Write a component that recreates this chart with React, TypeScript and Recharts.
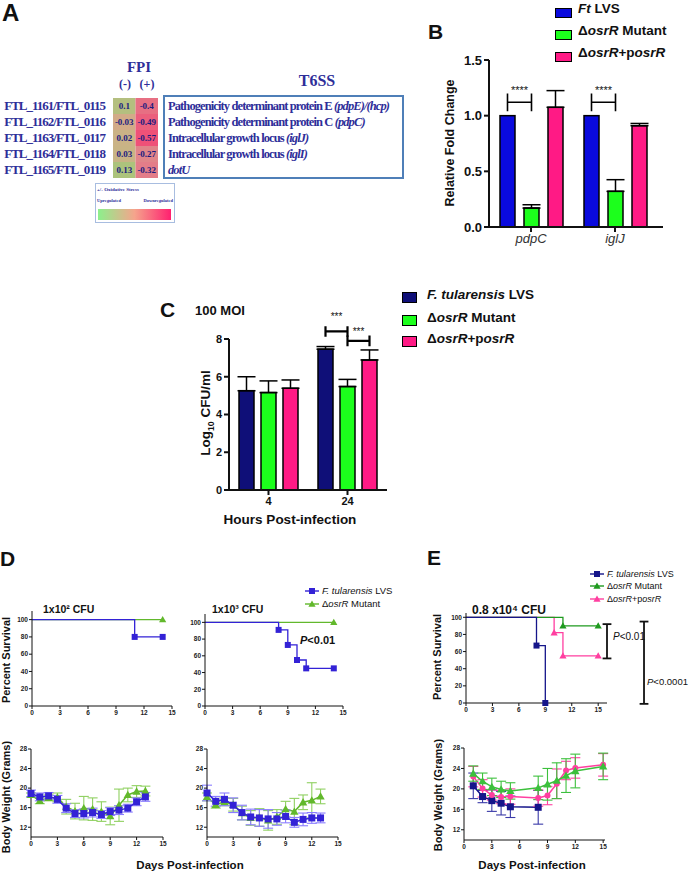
import React from "react";
import {
  BarChart,
  Bar,
  LineChart,
  Line,
  XAxis,
  YAxis,
  ErrorBar,
  ReferenceLine,
  Cell,
  LabelList,
} from "recharts";

const SANS = '"Liberation Sans", Arial, sans-serif';
const SERIF = '"Liberation Serif", "Times New Roman", serif';
const NAVY_TXT = "#2e2e99";

// ---------- A: heat table ----------
const aGenes = ["FTL_1161/FTL_0115", "FTL_1162/FTL_0116", "FTL_1163/FTL_0117", "FTL_1164/FTL_0118", "FTL_1165/FTL_0119"];
const aMinus = [0.1, -0.03, 0.02, 0.03, 0.13];
const aPlus = [-0.4, -0.49, -0.57, -0.27, -0.32];
const aDesc = ["Pathogenicity determinant protein E ", "Pathogenicity determinant protein C ", "Intracellular growth locus ", "Intracellular growth locus ", ""];
const aSym = ["(pdpE)/(hcp)", "(pdpC)", "(iglJ)", "(iglI)", "dotU"];

// ---------- B: qRT-PCR ----------
const bGenes = ["pdpC", "iglJ"];
const bLvs = [1.0, 1.0];
const bMutant = [0.17, 0.32];
const bMutantErr = [0.03, 0.105];
const bComp = [1.075, 0.91];
const bCompErr = [0.15, 0.02];
const bStars = ["****", "****"];

// ---------- C: intracellular growth ----------
const cHours = ["4", "24"];
const cLvs = [5.26, 7.46];
const cLvsErr = [0.74, 0.14];
const cMutant = [5.16, 5.48];
const cMutantErr = [0.62, 0.38];
const cComp = [5.39, 6.89];
const cCompErr = [0.44, 0.53];
const cStarsLvsMut = ["", "***"];
const cStarsMutComp = ["", "***"];

// ---------- D: survival ----------
const dayTicks = [0, 3, 6, 9, 12, 15];
const dLowDaysLvs = [0, 11, 14];
const dLowSurvLvs = [100, 80, 80];
const dLowDaysMut = [0, 14];
const dLowSurvMut = [100, 100];
const dHighDaysLvs = [0, 8, 9, 10, 11, 14];
const dHighSurvLvs = [100, 91, 73, 55, 45, 45];
const dHighDaysMut = [0, 14];
const dHighSurvMut = [100, 100];

// ---------- D: body weight ----------
const dWeightDays = [0, 1, 2, 3, 4, 5, 6, 7, 8, 9, 10, 11, 12, 13];
const dLowWtLvs = [18.9, 18.2, 18.4, 17.7, 15.9, 14.8, 14.8, 15.0, 14.6, 15.2, 15.5, 15.9, 17.2, 18.2];
const dLowWtLvsSd = [0.7, 0.8, 0.7, 0.8, 0.9, 0.8, 0.9, 0.9, 0.8, 0.8, 0.9, 0.8, 0.8, 0.9];
const dLowWtMut = [18.6, 17.4, 18.0, 18.1, 16.2, 15.3, 15.9, 15.7, 15.2, 14.3, 16.5, 18.6, 19.3, 19.4];
const dLowWtMutSd = [0.4, 0.6, 0.6, 0.9, 1.5, 1.6, 2.4, 2.3, 2.0, 1.8, 3.3, 1.4, 1.2, 1.0];
const dHighWtLvs = [19.0, 17.3, 17.7, 16.5, 15.0, 14.1, 13.9, 13.7, 13.7, 14.2, 13.0, 13.6, 13.9, 13.9];
const dHighWtLvsSd = [1.6, 1.0, 1.3, 1.5, 1.5, 1.6, 1.7, 1.9, 1.3, 1.3, 1.0, 1.3, 1.1, 1.0];
const dHighWtMut = [18.2, 16.6, 17.2, 16.6, 14.9, 13.9, 14.0, 13.4, 14.1, 15.7, 15.2, 17.1, 17.5, 18.3];
const dHighWtMutSd = [0.8, 0.7, 0.8, 1.3, 1.4, 1.5, 1.8, 2.0, 1.5, 1.6, 2.7, 1.5, 3.6, 1.5];

// ---------- E: survival ----------
const eDaysLvs = [0, 8, 9];
const eSurvLvs = [100, 67, 0];
const eDaysMut = [0, 11, 15];
const eSurvMut = [100, 90, 90];
const eDaysComp = [0, 10, 11, 15];
const eSurvComp = [100, 82, 55, 55];

// ---------- E: body weight ----------
const eWtDaysLvs = [1, 2, 3, 4, 5, 8];
const eWtLvs = [20.6, 18.5, 17.7, 17.2, 16.5, 16.4];
const eWtLvsSd = [2.5, 1.2, 2.1, 2.3, 2.1, 3.3];
const eWtDays = [1, 2, 3, 4, 5, 8, 9, 10, 11, 12, 15];
const eWtMut = [23.0, 21.5, 20.4, 19.9, 19.6, 20.2, 20.9, 21.6, 22.6, 23.5, 24.4];
const eWtMutSd = [1.5, 1.6, 1.7, 1.6, 1.6, 2.3, 3.1, 3.5, 3.3, 3.3, 2.6];
const eWtComp = [22.4, 20.1, 18.8, 18.4, 18.5, 18.2, 18.7, 21.0, 23.6, 24.1, 24.7];
const eWtCompSd = [2.0, 1.7, 1.0, 1.3, 1.5, 1.6, 1.8, 2.9, 1.8, 2.0, 2.2];

const C_BLUE = "#0a0ade";
const C_NAVY = "#0f0f78";
const C_GREEN = "#1cff1c";
const C_PINK = "#ff1a85";

function heat(v: number) {
  const stops: [number, number[]][] = [
    [-0.6, [240, 76, 118]],
    [-0.3, [226, 128, 138]],
    [0, [208, 176, 136]],
    [0.15, [166, 198, 122]],
  ];
  let i = 0;
  while (i < stops.length - 2 && v > stops[i + 1][0]) i++;
  const [a, ca] = stops[i];
  const [b, cb] = stops[i + 1];
  const t = Math.max(0, Math.min(1, (v - a) / (b - a)));
  const c = ca.map((x, k) => Math.round(x + (cb[k] - x) * t));
  return `rgb(${c[0]},${c[1]},${c[2]})`;
}

const Txt = ({ x, y, size, children, anchor = "start", bold, italic, color = "#111", font = SANS, style }: any) => (
  <div
    style={{
      position: "absolute",
      left: x,
      top: y,
      fontSize: size,
      lineHeight: 1,
      whiteSpace: "nowrap",
      fontWeight: bold ? 700 : 400,
      fontStyle: italic ? "italic" : "normal",
      color,
      fontFamily: font,
      transform: `translate(${anchor === "middle" ? "-50%" : anchor === "end" ? "-100%" : "0"}, -50%)`,
      ...style,
    }}
  >
    {children}
  </div>
);

const VTxt = ({ x, y, size, children, bold = true, color = "#111" }: any) => (
  <div
    style={{
      position: "absolute",
      left: x,
      top: y,
      fontSize: size,
      lineHeight: 1,
      whiteSpace: "nowrap",
      fontWeight: bold ? 700 : 400,
      color,
      fontFamily: SANS,
      transform: "translate(-50%, -50%) rotate(-90deg)",
    }}
  >
    {children}
  </div>
);

type Shape = "square" | "triangle" | "circle";
function Marker({ shape, cx, cy, size, color }: { shape: Shape; cx: number; cy: number; size: number; color: string }) {
  if (shape === "square") return <rect x={cx - size / 2} y={cy - size / 2} width={size} height={size} fill={color} />;
  if (shape === "triangle")
    return (
      <polygon
        points={`${cx},${cy - size * 0.6} ${cx - size * 0.6},${cy + size * 0.45} ${cx + size * 0.6},${cy + size * 0.45}`}
        fill={color}
      />
    );
  return <circle cx={cx} cy={cy} r={size / 2} fill={color} />;
}

// bar with significance brackets drawn from the bar's own geometry
function bracketBar(opts: {
  valueKey: string;
  step: number;
  stroke: number;
  fontSize: number;
  brackets: { from: number; to: number; level: number; half: number; starLevel: number; starKey: string }[];
}) {
  return (p: any) => {
    const { x, y, width, height, fill, payload } = p;
    const v = payload[opts.valueKey];
    const base = y + height;
    const k = v ? height / v : 0;
    const py = (val: number) => base - val * k;
    const cx = x + width / 2;
    return (
      <g>
        <rect x={x} y={y} width={width} height={height} fill={fill} stroke="#000" strokeWidth={1.5} />
        {opts.brackets.map((b, j) => {
          const s = payload[b.starKey];
          if (!s) return null;
          const x1 = cx + b.from * opts.step;
          const x2 = cx + b.to * opts.step;
          return (
            <g key={j}>
              <path
                d={`M${x1},${py(b.level + b.half)}V${py(b.level - b.half)}M${x1},${py(b.level)}H${x2}M${x2},${py(b.level + b.half)}V${py(b.level - b.half)}`}
                stroke="#000"
                strokeWidth={opts.stroke}
                fill="none"
              />
              <text x={(x1 + x2) / 2} y={py(b.starLevel)} textAnchor="middle" fontSize={opts.fontSize} fontFamily={SANS} fill="#111">
                {s}
              </text>
            </g>
          );
        })}
      </g>
    );
  };
}

const smallTick = { fontSize: 6.5, fontWeight: 700, fill: "#222", fontFamily: SANS };

type Series = { days: number[]; vals: number[]; sd?: number[]; color: string; errColor?: string; shape: Shape; size: number };

function KmChart({ x0, top, plotW, plotH, xMax, yMax, series, T = 5, R = 8, children }: any) {
  const L = 22;
  return (
    <div style={{ position: "absolute", left: x0 - L, top: top - T }}>
      <LineChart width={L + plotW + R} height={T + plotH + 14} margin={{ top: T, right: R, bottom: 0, left: 0 }}>
        <XAxis type="number" dataKey="d" domain={[0, xMax]} ticks={dayTicks} tick={smallTick} tickSize={3} tickMargin={1} height={14} stroke="#111" />
        <YAxis type="number" domain={[0, yMax]} ticks={[0, 20, 40, 60, 80, 100]} tick={smallTick} tickSize={3} tickMargin={1} width={L} stroke="#111" />
        {series.map((s: Series, i: number) => (
          <Line
            key={i}
            data={s.days.map((d, j) => ({ d, v: s.vals[j] }))}
            dataKey="v"
            type="stepAfter"
            stroke={s.color}
            strokeWidth={1.3}
            isAnimationActive={false}
            dot={(p: any) =>
              p.index > 0 ? (
                <Marker key={p.index} shape={s.shape} cx={p.cx} cy={p.cy} size={s.size} color={s.color} />
              ) : (
                <g key={p.index} />
              )
            }
            activeDot={false}
          />
        ))}
        {children}
      </LineChart>
    </div>
  );
}

function WeightChart({ x0, top, plotW, plotH, xMax, series }: any) {
  const L = 22;
  const T = 5;
  const R = 8;
  return (
    <div style={{ position: "absolute", left: x0 - L, top: top - T }}>
      <LineChart width={L + plotW + R} height={T + plotH + 14} margin={{ top: T, right: R, bottom: 0, left: 0 }}>
        <XAxis type="number" dataKey="d" domain={[0, xMax]} ticks={dayTicks} tick={smallTick} tickSize={3} tickMargin={1} height={14} stroke="#111" />
        <YAxis type="number" domain={[10, 28]} ticks={[12, 16, 20, 24, 28]} tick={smallTick} tickSize={3} tickMargin={1} width={L} stroke="#111" />
        {series.map((s: Series, i: number) => (
          <Line
            key={i}
            data={s.days.map((d, j) => ({ d, v: s.vals[j], sd: s.sd ? s.sd[j] : 0 }))}
            dataKey="v"
            type="linear"
            stroke={s.color}
            strokeWidth={1.5}
            isAnimationActive={false}
            dot={(p: any) => <Marker key={p.index} shape={s.shape} cx={p.cx} cy={p.cy} size={s.size} color={s.color} />}
            activeDot={false}
          >
            <ErrorBar dataKey="sd" direction="y" width={5} stroke={s.errColor || s.color} strokeWidth={1.1} />
          </Line>
        ))}
      </LineChart>
    </div>
  );
}

const Swatch = ({ color, w, h }: any) => (
  <span style={{ display: "inline-block", width: w, height: h, background: color, border: "1.5px solid #000", boxSizing: "border-box" }} />
);

const LineKey = ({ shape, color }: { shape: Shape; color: string }) => (
  <svg width={14} height={8} style={{ display: "block" }}>
    <line x1={0} y1={4} x2={14} y2={4} stroke={color} strokeWidth={1.4} />
    <Marker shape={shape} cx={7} cy={4} size={6} color={color} />
  </svg>
);

const Osr = () => (
  <>
    Δ<i>osrR</i>
  </>
);

export default function App() {
  const aRows = aGenes.map((g, i) => ({ gene: g, minus: aMinus[i], plus: aPlus[i] }));
  const bRows = bGenes.map((g, i) => ({
    gene: g,
    lvs: bLvs[i],
    mutant: bMutant[i],
    comp: bComp[i],
    mutantErr: [0, bMutantErr[i]],
    compErr: [0, bCompErr[i]],
    stars: bStars[i],
  }));
  const cRows = cHours.map((h, i) => ({
    hour: h,
    lvs: cLvs[i],
    mutant: cMutant[i],
    comp: cComp[i],
    lvsErr: [0, cLvsErr[i]],
    mutantErr: [0, cMutantErr[i]],
    compErr: [0, cCompErr[i]],
    s1: cStarsLvsMut[i],
    s2: cStarsMutComp[i],
  }));

  const D_BLUE = "#3322d6";
  const D_BLUE_ERR = "#8a7cff";
  const D_GREEN = "#62b82c";
  const D_GREEN_ERR = "#8fd060";
  const E_NAVY = "#15158a";
  const E_GREEN_S = "#1f9a1f";
  const E_GREEN = "#3cc03c";
  const E_PINK = "#ff3fa0";

  return (
    <div style={{ position: "absolute", left: 0, top: 0, width: 689, height: 875, background: "#fff", overflow: "hidden", fontFamily: SANS }}>
      {/* ---------------- A ---------------- */}
      <Txt x={2} y={13} size={24} bold>A</Txt>
      <Txt x={139} y={67} size={15} bold font={SERIF} color={NAVY_TXT} anchor="middle">FPI</Txt>
      <Txt x={125} y={84} size={12} bold font={SERIF} color={NAVY_TXT} anchor="middle">(-)</Txt>
      <Txt x={147} y={84} size={12} bold font={SERIF} color={NAVY_TXT} anchor="middle">(+)</Txt>
      <Txt x={317} y={81} size={16} bold font={SERIF} color={NAVY_TXT} anchor="middle">T6SS</Txt>
      <div style={{ position: "absolute", left: 3, top: 98 }}>
        <BarChart width={155} height={80} data={aRows} layout="vertical" margin={{ top: 0, right: 0, bottom: 0, left: 0 }} barCategoryGap={0}>
          <XAxis type="number" domain={[0, 2]} hide />
          <YAxis
            type="category"
            dataKey="gene"
            width={110}
            axisLine={false}
            tickLine={false}
            interval={0}
            tick={(p: any) => (
              <text x={p.x} y={p.y} dy={4} textAnchor="end" fill={NAVY_TXT} fontFamily={SERIF} fontWeight={700} fontSize={13} letterSpacing={-1}>
                {p.payload.value}
              </text>
            )}
          />
          <Bar dataKey={() => 1} stackId="h" isAnimationActive={false}>
            {aRows.map((r, i) => (
              <Cell key={i} fill={heat(r.minus)} />
            ))}
            <LabelList dataKey="minus" position="center" fill="#1b1b80" fontSize={9} fontWeight={700} fontFamily={SERIF} />
          </Bar>
          <Bar dataKey={() => 1} stackId="h" isAnimationActive={false}>
            {aRows.map((r, i) => (
              <Cell key={i} fill={heat(r.plus)} />
            ))}
            <LabelList dataKey="plus" position="center" fill="#1b1b80" fontSize={9} fontWeight={700} fontFamily={SERIF} />
          </Bar>
        </BarChart>
      </div>
      <div style={{ position: "absolute", left: 163, top: 95, width: 241, height: 84, border: "2px solid #4f7fb8", boxSizing: "border-box" }} />
      {aDesc.map((d, i) => (
        <Txt key={i} x={168} y={106 + 16 * i} size={12.5} bold font={SERIF} color={NAVY_TXT} style={{ letterSpacing: -0.9 }}>
          {d}
          <i>{aSym[i]}</i>
        </Txt>
      ))}
      <div style={{ position: "absolute", left: 95, top: 183, width: 80, height: 40, border: "1.5px solid #a8bde0", boxSizing: "border-box" }}>
        <div
          style={{
            position: "absolute",
            left: 2,
            top: 25,
            width: 73,
            height: 11,
            background: "linear-gradient(to right, #8cf08c, #f5a48c 50%, #ff2070)",
          }}
        />
      </div>
      <Txt x={97} y={189} size={5} bold font={SERIF} color={NAVY_TXT}>+/- Oxidative Stress</Txt>
      <Txt x={97} y={201} size={4.5} bold font={SERIF} color={NAVY_TXT}>Upregulated</Txt>
      <Txt x={173} y={201} size={4.5} bold font={SERIF} color={NAVY_TXT} anchor="end">Downregulated</Txt>

      {/* ---------------- B ---------------- */}
      <Txt x={428} y={31} size={21} bold>B</Txt>
      <div style={{ position: "absolute", left: 449, top: 50 }}>
        <BarChart width={222} height={203} data={bRows} margin={{ top: 10, right: 8, bottom: 0, left: 0 }} barSize={15} barGap={9}>
          <XAxis dataKey="gene" tick={{ fontSize: 13, fontStyle: "italic", fill: "#333", fontFamily: SANS }} tickSize={5} tickMargin={2} height={26} stroke="#111" strokeWidth={2} padding={{ left: 0, right: 6 }} />
          <YAxis
            type="number"
            domain={[0, 1.5]}
            ticks={[0, 0.5, 1.0, 1.5]}
            tickFormatter={(v: number) => v.toFixed(1)}
            tick={{ fontSize: 13, fontWeight: 700, fill: "#111", fontFamily: SANS }}
            tickSize={5}
            tickMargin={2}
            width={40}
            stroke="#111"
            strokeWidth={2}
          />
          <Bar
            dataKey="lvs"
            fill={C_BLUE}
            isAnimationActive={false}
            shape={bracketBar({
              valueKey: "lvs",
              step: 24,
              stroke: 1.6,
              fontSize: 11,
              brackets: [{ from: 0, to: 1, level: 1.12, half: 0.08, starLevel: 1.195, starKey: "stars" }],
            })}
          />
          <Bar dataKey="mutant" fill={C_GREEN} stroke="#000" strokeWidth={1.5} isAnimationActive={false}>
            <ErrorBar dataKey="mutantErr" direction="y" width={9} stroke="#000" strokeWidth={1.5} />
          </Bar>
          <Bar dataKey="comp" fill={C_PINK} stroke="#000" strokeWidth={1.5} isAnimationActive={false}>
            <ErrorBar dataKey="compErr" direction="y" width={9} stroke="#000" strokeWidth={1.5} />
          </Bar>
        </BarChart>
      </div>
      <VTxt x={450} y={143} size={12.5}>Relative Fold Change</VTxt>
      {[
        { c: C_BLUE, label: <><i>Ft</i> LVS</>, y: 9 },
        { c: C_GREEN, label: <><Osr /> Mutant</>, y: 31 },
        { c: C_PINK, label: <><Osr />+p<i>osrR</i></>, y: 53 },
      ].map((it, i) => (
        <React.Fragment key={i}>
          <div style={{ position: "absolute", left: 555, top: it.y - 5 }}>
            <Swatch color={it.c} w={17} h={10} />
          </div>
          <Txt x={578} y={it.y} size={13.5} bold>{it.label}</Txt>
        </React.Fragment>
      ))}

      {/* ---------------- C ---------------- */}
      <Txt x={160} y={309} size={21} bold>C</Txt>
      <Txt x={195} y={310} size={13} bold>100 MOI</Txt>
      <div style={{ position: "absolute", left: 193, top: 294 }}>
        <BarChart width={200} height={218} data={cRows} margin={{ top: 45, right: 6, bottom: 0, left: 0 }} barSize={15} barGap={7}>
          <XAxis dataKey="hour" tick={{ fontSize: 11, fontWeight: 700, fill: "#111", fontFamily: SANS }} tickSize={5} tickMargin={2} height={22} stroke="#111" strokeWidth={2} />
          <YAxis
            type="number"
            domain={[0, 8]}
            ticks={[0, 2, 4, 6, 8]}
            tick={{ fontSize: 11, fontWeight: 700, fill: "#111", fontFamily: SANS }}
            tickSize={5}
            tickMargin={2}
            width={36}
            stroke="#111"
            strokeWidth={2}
          />
          <Bar
            dataKey="lvs"
            fill={C_NAVY}
            isAnimationActive={false}
            shape={bracketBar({
              valueKey: "lvs",
              step: 22,
              stroke: 2.2,
              fontSize: 10,
              brackets: [
                { from: 0, to: 1, level: 8.4, half: 0.28, starLevel: 9.0, starKey: "s1" },
                { from: 1, to: 2, level: 7.9, half: 0.28, starLevel: 8.2, starKey: "s2" },
              ],
            })}
          >
            <ErrorBar dataKey="lvsErr" direction="y" width={9} stroke="#000" strokeWidth={1.5} />
          </Bar>
          <Bar dataKey="mutant" fill={C_GREEN} stroke="#000" strokeWidth={1.5} isAnimationActive={false}>
            <ErrorBar dataKey="mutantErr" direction="y" width={9} stroke="#000" strokeWidth={1.5} />
          </Bar>
          <Bar dataKey="comp" fill={C_PINK} stroke="#000" strokeWidth={1.5} isAnimationActive={false}>
            <ErrorBar dataKey="compErr" direction="y" width={9} stroke="#000" strokeWidth={1.5} />
          </Bar>
        </BarChart>
      </div>
      <VTxt x={206} y={413} size={13.5}>
        Log<sub style={{ fontSize: "0.65em", lineHeight: 0 }}>10</sub> CFU/ml
      </VTxt>
      <Txt x={290} y={520} size={13.5} bold anchor="middle">Hours Post-infection</Txt>
      {[
        { c: C_NAVY, label: <><i>F. tularensis</i> LVS</>, y: 295 },
        { c: C_GREEN, label: <><Osr /> Mutant</>, y: 318 },
        { c: C_PINK, label: <><Osr />+p<i>osrR</i></>, y: 339 },
      ].map((it, i) => (
        <React.Fragment key={i}>
          <div style={{ position: "absolute", left: 402, top: it.y - 6 }}>
            <Swatch color={it.c} w={15} h={11} />
          </div>
          <Txt x={427} y={it.y} size={13.5} bold>{it.label}</Txt>
        </React.Fragment>
      ))}

      {/* ---------------- D ---------------- */}
      <Txt x={0} y={558} size={21} bold>D</Txt>
      <Txt x={43} y={609} size={10.5} bold>1x10² CFU</Txt>
      <Txt x={212} y={609} size={10.5} bold>1x10³ CFU</Txt>
      <KmChart
        x0={32}
        top={611}
        plotW={140}
        plotH={95}
        xMax={15}
        yMax={110}
        series={[
          { days: dLowDaysMut, vals: dLowSurvMut, color: D_GREEN, shape: "triangle", size: 6 },
          { days: dLowDaysLvs, vals: dLowSurvLvs, color: D_BLUE, shape: "square", size: 6 },
        ]}
      />
      <KmChart
        x0={205}
        top={614}
        plotW={138}
        plotH={92}
        xMax={15}
        yMax={110}
        series={[
          { days: dHighDaysMut, vals: dHighSurvMut, color: D_GREEN, shape: "triangle", size: 6 },
          { days: dHighDaysLvs, vals: dHighSurvLvs, color: D_BLUE, shape: "square", size: 6 },
        ]}
      />
      <Txt x={300} y={640} size={11} bold>
        <i>P</i>&lt;0.01
      </Txt>
      <div style={{ position: "absolute", left: 305, top: 587 }}>
        <LineKey shape="square" color={D_BLUE} />
      </div>
      <Txt x={322} y={591} size={9.5}>
        <i>F. tularensis</i> LVS
      </Txt>
      <div style={{ position: "absolute", left: 305, top: 600 }}>
        <LineKey shape="triangle" color={D_GREEN} />
      </div>
      <Txt x={322} y={604} size={9.5}>
        <Osr /> Mutant
      </Txt>
      <VTxt x={6} y={660} size={11}>Percent Survival</VTxt>
      <VTxt x={6} y={797} size={11}>Body Weight (Grams)</VTxt>
      <WeightChart
        x0={31}
        top={749}
        plotW={132}
        plotH={88}
        xMax={15}
        series={[
          { days: dWeightDays, vals: dLowWtMut, sd: dLowWtMutSd, color: D_GREEN, errColor: D_GREEN_ERR, shape: "triangle", size: 7 },
          { days: dWeightDays, vals: dLowWtLvs, sd: dLowWtLvsSd, color: D_BLUE, errColor: D_BLUE_ERR, shape: "square", size: 7 },
        ]}
      />
      <WeightChart
        x0={207}
        top={749}
        plotW={131}
        plotH={88}
        xMax={15}
        series={[
          { days: dWeightDays, vals: dHighWtMut, sd: dHighWtMutSd, color: D_GREEN, errColor: D_GREEN_ERR, shape: "triangle", size: 7 },
          { days: dWeightDays, vals: dHighWtLvs, sd: dHighWtLvsSd, color: D_BLUE, errColor: D_BLUE_ERR, shape: "square", size: 7 },
        ]}
      />
      <Txt x={190} y={866} size={11.5} bold anchor="middle">Days Post-infection</Txt>

      {/* ---------------- E ---------------- */}
      <Txt x={427} y={557} size={21} bold>E</Txt>
      <Txt x={472} y={610} size={12} bold>0.8 x10⁴ CFU</Txt>
      <KmChart
        x0={466}
        top={613}
        plotW={141}
        plotH={90}
        xMax={16}
        yMax={105}
        T={10}
        R={82}
        series={[
          { days: eDaysComp, vals: eSurvComp, color: E_PINK, shape: "triangle", size: 6 },
          { days: eDaysMut, vals: eSurvMut, color: E_GREEN_S, shape: "triangle", size: 6 },
          { days: eDaysLvs, vals: eSurvLvs, color: E_NAVY, shape: "square", size: 6 },
        ]}
      >
        <ReferenceLine segment={[{ x: 16, y: 92 }, { x: 16, y: 52 }]} stroke="#111" strokeWidth={1.8} ifOverflow="visible" />
        <ReferenceLine segment={[{ x: 15.5, y: 92 }, { x: 16.5, y: 92 }]} stroke="#111" strokeWidth={1.8} ifOverflow="visible" />
        <ReferenceLine segment={[{ x: 15.5, y: 52 }, { x: 16.5, y: 52 }]} stroke="#111" strokeWidth={1.8} ifOverflow="visible" />
        <ReferenceLine segment={[{ x: 20.2, y: 95 }, { x: 20.2, y: -1 }]} stroke="#111" strokeWidth={1.8} ifOverflow="visible" />
        <ReferenceLine segment={[{ x: 19.7, y: 95 }, { x: 20.7, y: 95 }]} stroke="#111" strokeWidth={1.8} ifOverflow="visible" />
        <ReferenceLine segment={[{ x: 19.7, y: -1 }, { x: 20.7, y: -1 }]} stroke="#111" strokeWidth={1.8} ifOverflow="visible" />
      </KmChart>
      <Txt x={613} y={637} size={10}>
        <i>P</i>&lt;0.01
      </Txt>
      <Txt x={647} y={682} size={9.5}>
        <i>P</i>&lt;0.0001
      </Txt>
      {[
        { shape: "square" as Shape, c: E_NAVY, label: <><i>F. tularensis</i> LVS</>, y: 574 },
        { shape: "triangle" as Shape, c: E_GREEN_S, label: <><Osr /> Mutant</>, y: 586 },
        { shape: "triangle" as Shape, c: E_PINK, label: <><Osr />+p<i>osrR</i></>, y: 599 },
      ].map((it, i) => (
        <React.Fragment key={i}>
          <div style={{ position: "absolute", left: 590, top: it.y - 4 }}>
            <LineKey shape={it.shape} color={it.c} />
          </div>
          <Txt x={607} y={it.y} size={9}>{it.label}</Txt>
        </React.Fragment>
      ))}
      <VTxt x={437} y={657} size={11}>Percent Survival</VTxt>
      <VTxt x={438} y={795} size={11}>Body Weight (Grams)</VTxt>
      <WeightChart
        x0={464}
        top={748}
        plotW={141}
        plotH={92}
        xMax={15.2}
        series={[
          { days: eWtDaysLvs, vals: eWtLvs, sd: eWtLvsSd, color: E_NAVY, errColor: "#3a3aa8", shape: "square", size: 7 },
          { days: eWtDays, vals: eWtComp, sd: eWtCompSd, color: E_PINK, shape: "circle", size: 6 },
          { days: eWtDays, vals: eWtMut, sd: eWtMutSd, color: E_GREEN, shape: "triangle", size: 7 },
        ]}
      />
      <Txt x={532} y={866} size={11.5} bold anchor="middle">Days Post-infection</Txt>
    </div>
  );
}
